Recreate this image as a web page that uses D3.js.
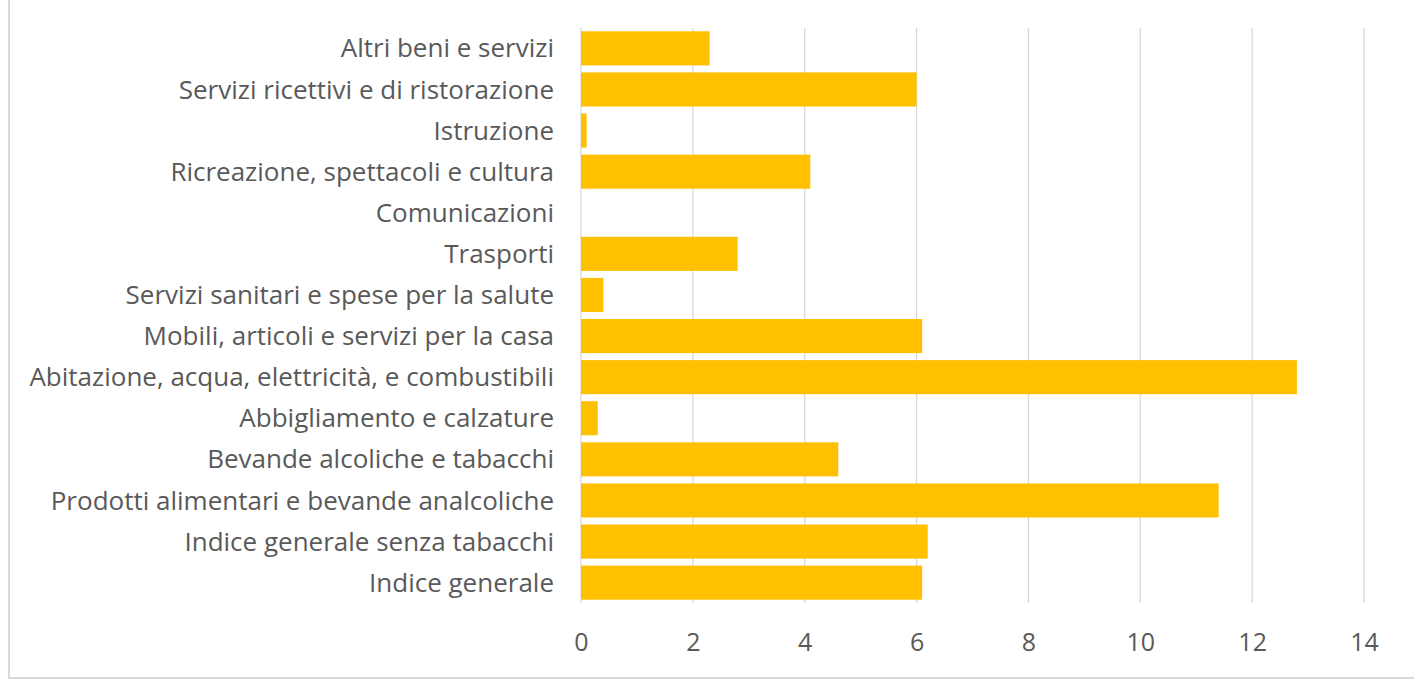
<!DOCTYPE html>
<html>
<head>
<meta charset="utf-8">
<script src="https://cdn.jsdelivr.net/npm/d3@7"></script>
<style>
  body { margin: 0; background: #fff; }
  svg text { font-family: "Open Sans", "Noto Sans", sans-serif; fill: #595959; }
</style>
</head>
<body>
<script>
// categorie (dall'alto verso il basso) e valori
const categorie = [
  "Altri beni e servizi",
  "Servizi ricettivi e di ristorazione",
  "Istruzione",
  "Ricreazione, spettacoli e cultura",
  "Comunicazioni",
  "Trasporti",
  "Servizi sanitari e spese per la salute",
  "Mobili, articoli e servizi per la casa",
  "Abitazione, acqua, elettricità, e combustibili",
  "Abbigliamento e calzature",
  "Bevande alcoliche e tabacchi",
  "Prodotti alimentari e bevande analcoliche",
  "Indice generale senza tabacchi",
  "Indice generale"
];
const valori = [2.3, 6.0, 0.1, 4.1, 0, 2.8, 0.4, 6.1, 12.8, 0.3, 4.6, 11.4, 6.2, 6.1];
const ticks = [0, 2, 4, 6, 8, 10, 12, 14];

const width = 1414, height = 680;
const pLeft = 581, pRight = 1364, pTop = 28, pBottom = 603;

const svg = d3.select("body").append("svg")
  .attr("width", width)
  .attr("height", height);

// cornice
svg.append("line").attr("x1", 9).attr("x2", 9).attr("y1", 0).attr("y2", 678)
  .attr("stroke", "#d9d9d9").attr("stroke-width", 2);
svg.append("line").attr("x1", 8).attr("x2", width).attr("y1", 678).attr("y2", 678)
  .attr("stroke", "#d9d9d9").attr("stroke-width", 2);

const x = d3.scaleLinear().domain([0, 14]).range([pLeft, pRight]);
const y = d3.scaleBand().domain(categorie).range([pTop, pBottom]).paddingInner(0.17).paddingOuter(0.08);

// griglia
svg.append("g")
  .selectAll("line")
  .data(ticks)
  .enter()
  .append("line")
  .attr("x1", d => x(d)).attr("x2", d => x(d))
  .attr("y1", pTop).attr("y2", pBottom)
  .attr("stroke", "#d9d9d9")
  .attr("stroke-width", 1.3);

// barre
svg.append("g")
  .selectAll("rect")
  .data(categorie)
  .enter()
  .append("rect")
  .attr("x", x(0))
  .attr("y", d => y(d))
  .attr("width", (d, i) => x(valori[i]) - x(0))
  .attr("height", y.bandwidth())
  .attr("fill", "#ffc000");

// etichette categorie
svg.append("g")
  .selectAll("text")
  .data(categorie)
  .enter()
  .append("text")
  .attr("x", 554)
  .attr("y", d => y(d) + y.bandwidth() / 2)
  .attr("dy", "0.35em")
  .attr("text-anchor", "end")
  .style("font-size", "26px")
  .text(d => d);

// asse x
const xAxis = svg.append("g")
  .attr("transform", "translate(0," + pBottom + ")")
  .call(d3.axisBottom(x).tickValues(ticks).tickSize(0).tickPadding(30));
xAxis.select(".domain").remove();
xAxis.selectAll("text")
  .style("font-size", "25px")
  .style("font-family", "'Open Sans', sans-serif")
  .attr("fill", "#595959");
</script>
</body>
</html>
